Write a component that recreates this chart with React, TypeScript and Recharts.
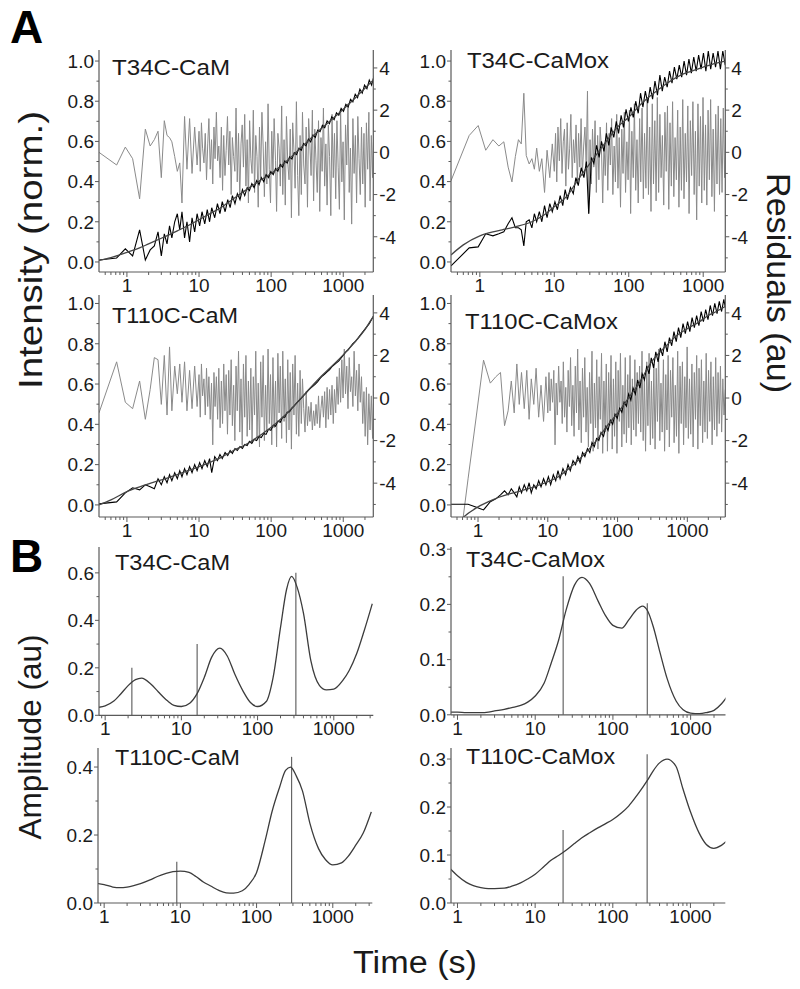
import React from "react";
import { LineChart, Line, XAxis, YAxis, ReferenceLine } from "recharts";

const FONT = '"Liberation Sans", Arial, Helvetica, sans-serif';
const AXIS = "#5a5a5a";
const INK = "#1a1a1a";

// ---------- panel A: kinetics (time in s) ----------
const timeA = [
  0.41, 0.72, 0.95, 1.2, 1.5, 1.8, 2.1, 2.4, 2.7, 3.0,
  3.3, 3.6, 3.9, 4.2, 4.6, 5.0, 5.4, 5.8, 6.3, 6.8,
  7.4, 8.0, 8.7, 9.4, 10.2, 11, 12, 13, 14, 15,
  16.5, 18, 19.5, 21, 23, 25, 27, 29, 31.5, 34,
  37, 40, 43, 46.5, 50, 54, 58, 63, 68, 73,
  79, 85, 92, 99, 107, 115, 124, 134, 144, 155,
  167, 180, 194, 209, 225, 243, 262, 282, 304, 328,
  353, 381, 410, 442, 477, 514, 554, 597, 643, 693,
  747, 805, 868, 935, 1008, 1086, 1170, 1261, 1359, 1465,
  1579, 1701, 1833, 1976, 2129, 2295, 2473, 2665, 2872, 3095,
  3335, 3500,
];

// residuals are sampled more densely once the run is past 10 s
const timeR = [
  0.41, 0.72, 0.95, 1.2, 1.5, 1.8, 2.1, 2.4, 2.7, 3.0,
  3.3, 3.6, 3.9, 4.2, 4.6, 5.0, 5.4, 5.8, 6.3, 6.8,
  7.4, 8.0, 8.7, 9.4,
  10, 10.4, 10.8, 11.2, 11.7, 12.2, 12.7, 13.2, 13.7, 14.3,
  14.9, 15.5, 16.1, 16.7, 17.4, 18.1, 18.8, 19.6, 20.4, 21.2,
  22, 22.9, 23.8, 24.8, 25.8, 26.8, 27.9, 29, 30.2, 31.4,
  32.6, 33.9, 35.3, 36.7, 38.2, 39.7, 41.3, 43, 44.7, 46.5,
  48.4, 50.3, 52.3, 54.4, 56.6, 58.9, 61.2, 63.7, 66.2, 68.9,
  71.6, 74.5, 77.5, 80.6, 83.8, 87.2, 90.6, 94.3, 98, 102,
  106, 110, 115, 119, 124, 129, 134, 140, 145, 151,
  157, 163, 170, 177, 184, 191, 199, 207, 215, 224,
  233, 242, 252, 262, 272, 283, 295, 306, 319, 331,
  345, 358, 373, 388, 403, 419, 436, 454, 472, 491,
  510, 531, 552, 574, 597, 621, 646, 672, 699, 727,
  756, 786, 817, 850, 884, 919, 956, 994, 1034, 1075,
  1118, 1163, 1210, 1258, 1308, 1361, 1415, 1472, 1531, 1592,
  1656, 1722, 1791, 1862, 1937, 2014, 2095, 2179, 2266, 2356,
  2451, 2549, 2651, 2757, 2867, 2982, 3101, 3225, 3354, 3500,
];

const timeFit = [0.41, 0.6, 1, 1.5, 2, 3, 5, 7, 10, 15, 20, 30, 50, 70, 100, 150, 200, 300, 500, 700, 1000, 1500, 2000, 2600, 3500];

// T34C-CaM
const measTL = [
  0.01, 0.02, 0.065, 0.03, 0.16, 0.01, 0.06, 0.08, 0.15, 0.03,
  0.14, 0.09, 0.18, 0.12, 0.2, 0.24, 0.16, 0.25, 0.12, 0.2,
  0.1, 0.22, 0.15, 0.24, 0.18, 0.25, 0.19, 0.26, 0.2, 0.27,
  0.22, 0.29, 0.24, 0.3, 0.25, 0.31, 0.27, 0.33, 0.29, 0.34,
  0.31, 0.36, 0.33, 0.37, 0.355, 0.39, 0.37, 0.405, 0.385, 0.42,
  0.4, 0.435, 0.42, 0.45, 0.435, 0.465, 0.452, 0.485, 0.472, 0.503,
  0.492, 0.523, 0.512, 0.544, 0.534, 0.566, 0.556, 0.59, 0.578, 0.612,
  0.598, 0.632, 0.62, 0.656, 0.648, 0.68, 0.668, 0.702, 0.688, 0.722,
  0.708, 0.742, 0.73, 0.764, 0.75, 0.785, 0.772, 0.81, 0.797, 0.835,
  0.818, 0.86, 0.84, 0.88, 0.862, 0.905, 0.88, 0.925, 0.9, 0.94,
  0.92, 0.96,
];
const residTL = [
  0.0, -0.6, 0.25, -0.3, -2.2, 1.1, 0.3, 0.6, 1.0, -1.2,
  1.5, 0.8, 0.7, 0.5, -0.2, -0.9, -0.5, -2.4, 1.7, -0.8,
  1.6, -1.0, 1.2, -0.6,
  1.0, -0.9, 1.4, 0.2, -0.5, 0.9, -1.3, 0.4, 1.6, -0.8,
  0.6, -1.5, 1.2, -0.3, 1.9, -0.4, 0.3, -1.2, 1.2, -1.8,
  0.8, -1.1, 0.1, 1.7, -0.6, 1.0, -2.0, 0.7, -0.2, -0.9,
  2.1, -1.4, 0.9, -2.2, 0.4, 1.3, -0.7, 1.8, -1.6, 0.6,
  -2.4, 1.5, -0.3, -1.0, 2.0, -1.9, 0.8, -0.2, -2.6, 1.2,
  -1.2, 1.9, 0.3, -2.1, 0.5, -1.5, 2.3, -0.8, -2.4, 1.0,
  -1.0, 1.6, -0.4, -2.8, 0.9, 0.2, -1.6, 2.2, -2.0, 0.6,
  -2.5, 1.7, -0.5, -1.3, 1.1, -3.1, 1.4, 0.1, -1.7, 2.4,
  -1.1, -3.0, 0.8, -2.0, 1.9, -0.6, -1.5, 1.2, -2.6, 1.6,
  0.3, -1.1, 2.0, -2.3, 1.1, -0.4, -1.9, 1.5, -2.8, 0.7,
  -0.9, 2.1, -1.6, 0.4, -2.5, 1.3, -0.2, -3.0, 1.8, -1.2,
  0.9, -2.2, 1.5, -0.7, -2.7, 2.0, -1.4, 0.5, -3.2, 1.3,
  -0.6, 2.3, -1.9, 0.2, -3.4, 1.6, -1.0, 0.8, -2.4, 1.7,
  -0.3, -2.0, 1.2, -1.5, 0.9, -2.6, 1.4, -0.8, 1.9, -2.3,
  0.8, -1.2, 1.1, -0.6, 0.5, -1.0, 0.9, -0.4, 0.6, 0.3,
];
const fitTL = [0.008, 0.022, 0.048, 0.07, 0.09, 0.118, 0.155, 0.18, 0.21, 0.245, 0.27, 0.315, 0.37, 0.405, 0.44, 0.49, 0.53, 0.59, 0.665, 0.71, 0.76, 0.82, 0.865, 0.905, 0.95];

// T34C-CaMox
const measTR = [
  -0.02, 0.07, 0.075, 0.14, 0.13, 0.14, 0.15, 0.19, 0.22, 0.17,
  0.17, 0.16, 0.08, 0.2, 0.21, 0.17, 0.24, 0.2, 0.25, 0.2,
  0.28, 0.22, 0.29, 0.25, 0.3, 0.26, 0.33, 0.28, 0.36, 0.31,
  0.37, 0.34, 0.42, 0.38, 0.47, 0.42, 0.5, 0.24, 0.52, 0.49,
  0.58, 0.52, 0.6, 0.55, 0.64, 0.58, 0.67, 0.62, 0.7, 0.64,
  0.73, 0.67, 0.76, 0.7, 0.77, 0.72, 0.8, 0.74, 0.84, 0.77,
  0.85, 0.79, 0.87, 0.81, 0.9, 0.83, 0.93, 0.85, 0.92, 0.87,
  0.95, 0.89, 0.97, 0.91, 0.98, 0.92, 1.0, 0.93, 1.01, 0.94,
  1.02, 0.95, 1.03, 0.96, 1.04, 0.95, 1.05, 0.96, 1.04, 0.97,
  1.05, 0.96, 1.05, 0.98, 1.04, 0.99, 1.02, 1.0, 1.03, 1.0,
  1.02, 1.0,
];
const residTR = [
  -1.35, 0.8, 1.27, 0.1, 0.6, 0.3, 0.5, -0.7, -1.4, -0.2,
  0.6, 0.4, 2.8, -0.15, -0.55, -0.3, -0.8, 0.2, -0.9, -0.3,
  -1.9, 0.1, -1.2, 0.4,
  -0.9, 0.9, -1.4, 1.2, -0.4, 1.6, -1.0, 0.5, 1.1, -1.6,
  1.4, -0.8, 0.2, 1.8, -1.2, 0.6, -0.5, 1.3, -1.5, 0.9,
  -0.7, 1.6, -1.1, 0.3, 1.2, -0.6, 2.9, -2.9, 0.6, -1.5,
  1.1, -0.7, 1.5, -1.9, 0.8, -1.3, 1.2, 0.2, -2.4, 0.4,
  -1.1, 1.4, -1.8, 0.9, -0.6, 1.6, -2.0, 0.3, -1.4, 1.8,
  -1.7, 0.7, -2.6, 1.1, -1.0, 1.9, -1.9, 0.5, -1.3, 2.0,
  -2.9, 1.0, -1.2, 2.3, -1.8, 0.6, -2.4, 1.6, -1.4, 2.1,
  -2.2, 0.9, -1.7, 2.6, -2.0, 1.2, -2.8, 2.3, -1.5, 1.5,
  -2.3, 2.6, -1.9, 1.8, -1.2, 0.8, -2.5, 1.9, -0.9, 2.2,
  -2.7, 1.4, -1.6, 2.4, -2.1, 0.7, -1.3, 2.0, -2.6, 1.2,
  -1.8, 2.5, -2.2, 0.9, -1.4, 2.2, -2.9, 1.5, -1.1, 2.4,
  -2.0, 1.0, -3.2, 2.3, -1.6, 1.7, -2.4, 2.6, -1.8, 1.3,
  -2.5, 2.0, -1.3, 2.5, -2.1, 1.1, -2.8, 1.8, -1.5, 2.2,
  -2.0, 1.6, -1.9, 2.1, -1.2, 0.8, -0.5, 0.3, 0, 0,
  0, 0, 0, 0, 0, 0, 0, 0, 0, 0,
];
const fitTR = [0.035, 0.085, 0.13, 0.15, 0.16, 0.175, 0.2, 0.23, 0.275, 0.33, 0.4, 0.49, 0.6, 0.67, 0.72, 0.79, 0.83, 0.88, 0.93, 0.95, 0.97, 0.99, 1.0, 1.01, 1.02];

// T110C-CaM
const measBL = [
  0.005, 0.015, 0.06, 0.085, 0.075, 0.1, 0.09, 0.08, 0.13, 0.1,
  0.14, 0.11, 0.15, 0.12, 0.16, 0.13, 0.17, 0.14, 0.18, 0.15,
  0.19, 0.16, 0.2, 0.17, 0.21, 0.18, 0.22, 0.19, 0.23, 0.16,
  0.24, 0.22, 0.25, 0.23, 0.26, 0.245, 0.27, 0.255, 0.28, 0.27,
  0.29, 0.28, 0.3, 0.295, 0.315, 0.305, 0.325, 0.32, 0.34, 0.335,
  0.355, 0.35, 0.375, 0.37, 0.395, 0.39, 0.415, 0.41, 0.435, 0.435,
  0.46, 0.462, 0.48, 0.492, 0.505, 0.518, 0.53, 0.543, 0.555, 0.568,
  0.58, 0.59, 0.6, 0.612, 0.628, 0.64, 0.65, 0.66, 0.67, 0.685,
  0.695, 0.705, 0.715, 0.73, 0.745, 0.76, 0.77, 0.785, 0.8, 0.81,
  0.825, 0.84, 0.855, 0.87, 0.885, 0.9, 0.92, 0.94, 0.955, 0.97,
  0.985, 1.0,
];
const residBL = [
  -0.7, 1.7, -0.2, -0.5, 0.8, -1.0, 0.4, 1.9, 1.8, -0.3,
  2.0, -0.8, 2.4, -0.6, 1.5, 0.2, 1.6, -0.2, 1.7, -0.6,
  1.3, -0.5, 1.5, -0.4,
  1.1, -0.9, 1.6, 0.1, 0.9, -0.8, 1.4, -0.4, 1.0, -1.0,
  0.7, -2.2, 1.2, -0.4, 1.0, -1.0, 1.4, -1.4, 0.8, -1.2,
  1.6, -0.6, 1.1, -1.7, 1.3, -0.8, 1.8, -1.3, 0.6, -2.0,
  1.5, -0.6, 2.2, -1.6, 0.9, -2.2, 1.6, -0.9, 2.0, -1.8,
  0.8, -1.5, 1.4, -2.1, 1.0, -0.8, 2.2, -1.9, 0.7, -2.3,
  1.7, -0.9, 2.0, -2.0, 0.6, -1.6, 2.3, -1.2, 1.1, -2.2,
  1.9, -1.4, 0.8, -2.3, 2.1, -0.7, 1.5, -1.9, 2.2, -1.1,
  0.9, -2.1, 1.8, -1.5, 1.2, -2.4, 1.6, -0.8, 2.0, -1.7,
  0.7, -1.8, 1.3, -1.2, 0.9, -0.5, -1.6, 0.3, -1.3, -0.4,
  -1.1, -0.2, -1.5, -0.6, -1.3, -0.3, -1.2, 0.1, -1.4, -0.5,
  0.1, -0.9, 0.3, -1.4, 0.5, -1.0, 0.4, -0.8, 0.6, -1.2,
  0.4, -0.7, 1.0, -0.3, 1.4, -0.2, 1.8, 0.0, 2.3, 0.2,
  1.5, -0.5, 1.9, 0.3, 1.0, -0.4, 2.2, 0.1, 1.3, -0.6,
  1.6, -0.2, 1.0, -1.2, 0.3, -1.8, 0.5, -2.2, 0.2, -1.5,
  0.1, -1.9, 0.3, -1.0, 0, -1.2, 0, -0.6, 0, 0,
];
const fitBL = [0.0, 0.025, 0.066, 0.09, 0.105, 0.124, 0.15, 0.17, 0.19, 0.215, 0.235, 0.27, 0.31, 0.345, 0.385, 0.44, 0.485, 0.555, 0.64, 0.69, 0.745, 0.815, 0.87, 0.935, 1.0];

// T110C-CaMox
const measBR = [
  0.003, 0.003, -0.012, -0.025, 0.016, 0.03, 0.05, 0.07, 0.05, 0.08,
  0.06, 0.04, 0.09, 0.06, 0.1, 0.07, 0.11, 0.06, 0.1, 0.08,
  0.12, 0.09, 0.13, 0.1, 0.14, 0.1, 0.15, 0.12, 0.17, 0.13,
  0.18, 0.15, 0.2, 0.17, 0.22, 0.2, 0.24, 0.21, 0.26, 0.24,
  0.28, 0.26, 0.31, 0.29, 0.33, 0.32, 0.36, 0.34, 0.39, 0.37,
  0.42, 0.4, 0.45, 0.43, 0.48, 0.46, 0.51, 0.49, 0.55, 0.52,
  0.58, 0.55, 0.62, 0.58, 0.65, 0.62, 0.69, 0.65, 0.73, 0.68,
  0.76, 0.71, 0.78, 0.74, 0.81, 0.76, 0.83, 0.79, 0.86, 0.81,
  0.88, 0.83, 0.9, 0.85, 0.91, 0.86, 0.93, 0.88, 0.94, 0.89,
  0.96, 0.91, 0.97, 0.92, 0.99, 0.94, 1.0, 0.95, 1.01, 0.96,
  1.02, 0.98,
];
const residBR = [
  -10.1, -3.8, -0.8, 1.78, 0.7, 1.0, 1.2, -1.3, -0.6, 0.8,
  -0.7, 1.6, -0.3, 1.2, -0.5, 1.3, -1.0, 0.9, -0.3, 1.4,
  -0.9, 0.6, -1.1, 1.0,
  -0.7, 1.2, -0.6, 0.9, -0.2, 1.3, -2.2, 0.7, -0.8, 1.5,
  -0.2, 0.8, -1.2, 1.7, -0.9, 0.5, -1.6, 1.3, -0.4, 1.9,
  -1.3, 0.6, -1.8, 1.5, -0.7, 2.3, -1.5, 0.8, -2.1, 1.4,
  -0.9, 1.9, -1.6, 0.5, -2.3, 1.2, -1.2, 2.2, -2.5, 0.7,
  -1.4, 1.8, -2.4, 1.0, -1.0, 2.1, -2.6, 0.8, -1.6, 1.6,
  -2.5, 1.2, -1.3, 2.0, -2.4, 0.9, -1.8, 1.7, -2.6, 1.3,
  -1.1, 2.1, -2.3, 0.6, -1.7, 1.9, -2.1, 1.1, -1.4, 2.0,
  -2.2, 0.9, -1.5, 1.8, -1.8, 1.2, -1.2, 1.5, -1.6, 2.2,
  -2.0, 1.0, -2.5, 1.7, -1.3, 2.1, -2.2, 0.8, -1.9, 1.6,
  -2.4, 1.4, -1.1, 2.3, -2.0, 0.7, -1.6, 1.8, -2.5, 1.1,
  -1.5, 2.0, -2.3, 1.3, -0.9, 1.9, -2.1, 0.6, -1.8, 2.2,
  -2.6, 1.5, -1.2, 1.7, -2.2, 1.0, -1.4, 2.4, -1.9, 0.9,
  -1.7, 1.6, -2.3, 1.2, -1.0, 2.0, -2.4, 1.4, -1.3, 1.8,
  -2.1, 0.8, -1.6, 2.1, -1.9, 1.3, -1.1, 1.7, -2.2, 1.0,
  -1.5, 1.9, -1.8, 1.2, -1.2, 1.5, -1.6, 0.9, -0.8, 0.4,
];
const fitBR = [-0.13, -0.065, -0.01, 0.02, 0.038, 0.057, 0.078, 0.095, 0.115, 0.145, 0.18, 0.235, 0.32, 0.39, 0.455, 0.54, 0.6, 0.705, 0.79, 0.84, 0.875, 0.91, 0.94, 0.96, 0.985];

// ---------- panel B: amplitude spectra ----------
const timeB = [
  0.8, 1, 1.3, 1.6, 2, 2.5, 3, 4, 5, 6.5,
  8, 10, 13, 16, 20, 25, 32, 40, 50, 65,
  80, 100, 130, 160, 200, 240, 280, 330, 400, 500,
  650, 800, 1000, 1300, 1600, 2000, 2500, 3200,
];
const ampTL = [
  0.033, 0.04, 0.06, 0.09, 0.125, 0.15, 0.157, 0.131, 0.098, 0.062,
  0.042, 0.037, 0.052, 0.09, 0.16, 0.245, 0.283, 0.25, 0.175, 0.1,
  0.055, 0.037, 0.058, 0.16, 0.37, 0.53, 0.585, 0.54, 0.43, 0.23,
  0.125, 0.107, 0.11, 0.145, 0.19, 0.26, 0.355, 0.47,
];
const ampTR = [
  0.005, 0.005, 0.004, 0.004, 0.004, 0.005, 0.007, 0.01, 0.013, 0.017,
  0.023, 0.034, 0.057, 0.093, 0.135, 0.19, 0.235, 0.249, 0.238, 0.205,
  0.18, 0.162, 0.157, 0.172, 0.19, 0.197, 0.188, 0.16, 0.115, 0.065,
  0.025, 0.009, 0.003, 0.002, 0.004, 0.008, 0.02, 0.04,
];
const ampBL = [
  0.058, 0.054, 0.047, 0.045, 0.047, 0.052, 0.057, 0.068, 0.078, 0.087,
  0.092, 0.094, 0.09, 0.078, 0.062, 0.05, 0.037, 0.03, 0.029, 0.036,
  0.055, 0.09, 0.185, 0.27, 0.34, 0.39, 0.4, 0.375, 0.33, 0.235,
  0.16, 0.128, 0.112, 0.118, 0.138, 0.17, 0.205, 0.268,
];
const ampBR = [
  0.072, 0.057, 0.043, 0.036, 0.032, 0.03, 0.03, 0.031, 0.035, 0.042,
  0.05, 0.06, 0.076, 0.089, 0.099, 0.11, 0.124, 0.136, 0.146, 0.157,
  0.165, 0.174, 0.188, 0.202, 0.222, 0.24, 0.256, 0.275, 0.292, 0.3,
  0.285, 0.238, 0.19, 0.145, 0.122, 0.114, 0.12, 0.135,
];
// time constants (s) and their amplitudes, drawn as sticks
const tauTL = [2.24, 16.1, 318];
const hTL = [0.2, 0.3, 0.6];
const tauTR = [22.9, 277];
const hTR = [0.251, 0.202];
const tauBL = [8.97, 288];
const hBL = [0.121, 0.43];
const tauBR = [22.9, 277];
const hBR = [0.152, 0.31];

// ---------- ticks and labels ----------
const timeMajor = [1, 10, 100, 1000];
const timeMinor = [0.5, 0.6, 0.7, 0.8, 0.9, 2, 3, 4, 5, 6, 7, 8, 9, 20, 30, 40, 50, 60, 70, 80, 90, 200, 300, 400, 500, 600, 700, 800, 900, 2000, 3000];
const intMajor = [0, 0.2, 0.4, 0.6, 0.8, 1.0];
const intMinor = [0.1, 0.3, 0.5, 0.7, 0.9];
const resMajor = [-4, -2, 0, 2, 4];
const resMinor = [-5, -3, -1, 1, 3];
const ampMajorA = [0, 0.2, 0.4, 0.6];
const ampMinorA = [0.1, 0.3, 0.5];
const ampMajorB = [0, 0.1, 0.2, 0.3];
const ampMinorB = [0.05, 0.15, 0.25];
const titles = ["T34C-CaM", "T34C-CaMox", "T110C-CaM", "T110C-CaMox"];

const YW = 70;
const RW = 45;
const XH = 34;
const PT = 14; // room above the plot for the top tick label

const toPoints = (ts: number[], vs: number[]) =>
  ts.map((t, i) => ({ t, v: vs[i] })).filter((p) => typeof p.v === "number");
const near = (list: number[], v: number) => list.some((m) => Math.abs(m - v) < 1e-6);
const within = (list: number[], d: number[]) =>
  list.filter((v) => v >= d[0] - 1e-9 && v <= d[1] + 1e-9).sort((a, b) => a - b);

function tickFor(side: "left" | "right" | "bottom", major: number[], fmt: (v: number) => string) {
  return (p: any) => {
    const v = p.payload.value;
    const big = near(major, v);
    const { x, y } = p;
    if (side === "bottom") {
      const len = big ? 5 : 3;
      return (
        <g>
          <line x1={x} y1={y} x2={x} y2={y + len} stroke={AXIS} strokeWidth={1} />
          {big && (
            <text x={x} y={y + 20} textAnchor="middle" fontSize={19} fontFamily={FONT} fill={INK}>
              {fmt(v)}
            </text>
          )}
        </g>
      );
    }
    const dir = side === "left" ? -1 : 1;
    const len = big ? 4 : 2.5;
    return (
      <g>
        <line x1={x} y1={y} x2={x + dir * len} y2={y} stroke={AXIS} strokeWidth={1} />
        {big && (
          <text
            x={side === "left" ? x - 5 : x + 6}
            y={y}
            dy="0.36em"
            textAnchor={side === "left" ? "end" : "start"}
            fontSize={19}
            fontFamily={FONT}
            fill={INK}
          >
            {fmt(v)}
          </text>
        )}
      </g>
    );
  };
}

const fmtTime = (v: number) => String(v);
const fmt1 = (v: number) => v.toFixed(1);
const fmtInt = (v: number) => String(v);
const axisLine = { stroke: AXIS, strokeWidth: 1.2 };

type KineticProps = {
  box: number[];
  xDomain: number[];
  yDomain: number[];
  rDomain: number[];
  meas: number[];
  resid: number[];
  fit: number[];
};

function KineticPanel({ box, xDomain, yDomain, rDomain, meas, resid, fit }: KineticProps) {
  const [l, t, r, b] = box;
  const W = YW + (r - l) + RW;
  const H = PT + (b - t) + XH;
  return (
    <div style={{ position: "absolute", left: l - YW, top: t - PT }}>
      <LineChart width={W} height={H} margin={{ top: PT, right: 0, bottom: 0, left: 0 }}>
        <XAxis
          dataKey="t"
          type="number"
          scale="log"
          domain={xDomain}
          allowDataOverflow
          ticks={within([...timeMajor, ...timeMinor], xDomain)}
          interval={0}
          tick={tickFor("bottom", timeMajor, fmtTime)}
          tickLine={false}
          tickSize={0}
          tickMargin={0}
          height={XH}
          axisLine={axisLine}
        />
        <YAxis
          yAxisId="l"
          type="number"
          domain={yDomain}
          allowDataOverflow
          ticks={within([...intMajor, ...intMinor], yDomain)}
          interval={0}
          tick={tickFor("left", intMajor, fmt1)}
          tickLine={false}
          tickSize={0}
          tickMargin={0}
          width={YW}
          axisLine={axisLine}
        />
        <YAxis
          yAxisId="r"
          orientation="right"
          type="number"
          domain={rDomain}
          allowDataOverflow
          ticks={within([...resMajor, ...resMinor], rDomain)}
          interval={0}
          tick={tickFor("right", resMajor, fmtInt)}
          tickLine={false}
          tickSize={0}
          tickMargin={0}
          width={RW}
          axisLine={axisLine}
        />
        <Line
          yAxisId="r"
          data={toPoints(timeR, resid)}
          dataKey="v"
          type="linear"
          stroke="#8a8a8a"
          strokeWidth={1}
          dot={false}
          isAnimationActive={false}
        />
        <Line
          yAxisId="l"
          data={toPoints(timeA, meas)}
          dataKey="v"
          type="linear"
          stroke="#000"
          strokeWidth={1.1}
          dot={false}
          isAnimationActive={false}
        />
        <Line
          yAxisId="l"
          data={toPoints(timeFit, fit)}
          dataKey="v"
          type="monotone"
          stroke="#454545"
          strokeWidth={1.3}
          dot={false}
          isAnimationActive={false}
        />
      </LineChart>
    </div>
  );
}

type SpectrumProps = {
  box: number[];
  xDomain: number[];
  yDomain: number[];
  major: number[];
  minor: number[];
  amp: number[];
  tau: number[];
  h: number[];
};

function SpectrumPanel({ box, xDomain, yDomain, major, minor, amp, tau, h }: SpectrumProps) {
  const [l, t, r, b] = box;
  const W = YW + (r - l) + 15;
  const H = PT + (b - t) + XH;
  return (
    <div style={{ position: "absolute", left: l - YW, top: t - PT }}>
      <LineChart width={W} height={H} margin={{ top: PT, right: 15, bottom: 0, left: 0 }}>
        <XAxis
          dataKey="t"
          type="number"
          scale="log"
          domain={xDomain}
          allowDataOverflow
          ticks={within([...timeMajor, ...timeMinor], xDomain)}
          interval={0}
          tick={tickFor("bottom", timeMajor, fmtTime)}
          tickLine={false}
          tickSize={0}
          tickMargin={0}
          height={XH}
          axisLine={axisLine}
        />
        <YAxis
          type="number"
          domain={yDomain}
          allowDataOverflow
          ticks={within([...major, ...minor], yDomain)}
          interval={0}
          tick={tickFor("left", major, fmt1)}
          tickLine={false}
          tickSize={0}
          tickMargin={0}
          width={YW}
          axisLine={axisLine}
        />
        {tau.map((x, i) => (
          <ReferenceLine
            key={i}
            segment={[
              { x, y: 0 },
              { x, y: h[i] },
            ]}
            stroke="#666"
            strokeWidth={1.2}
            ifOverflow="visible"
          />
        ))}
        <Line
          data={toPoints(timeB, amp)}
          dataKey="v"
          type="monotone"
          stroke="#3c3c3c"
          strokeWidth={1.3}
          dot={false}
          isAnimationActive={false}
        />
      </LineChart>
    </div>
  );
}

function Title({ x, y, w, children }: { x: number; y: number; w: number; children: string }) {
  return (
    <text x={x} y={y} fontSize={22} fontFamily={FONT} fill={INK} textLength={w} lengthAdjust="spacingAndGlyphs">
      {children}
    </text>
  );
}

export default function App() {
  return (
    <div
      style={{
        position: "absolute",
        left: 0,
        top: 0,
        width: 800,
        height: 989,
        background: "#fff",
        overflow: "hidden",
      }}
    >
      <KineticPanel box={[98.7, 50, 373, 272]} xDomain={[0.41, 2610]} yDomain={[-0.05, 1.055]} rDomain={[-5.67, 4.85]} meas={measTL} resid={residTL} fit={fitTL} />
      <KineticPanel box={[450.7, 50, 725, 272]} xDomain={[0.41, 1980]} yDomain={[-0.05, 1.055]} rDomain={[-5.67, 4.85]} meas={measTR} resid={residTR} fit={fitTR} />
      <KineticPanel box={[98.7, 295, 373, 517]} xDomain={[0.41, 2610]} yDomain={[-0.06, 1.042]} rDomain={[-5.59, 4.84]} meas={measBL} resid={residBL} fit={fitBL} />
      <KineticPanel box={[450.7, 295, 725, 517]} xDomain={[0.41, 3500]} yDomain={[-0.06, 1.042]} rDomain={[-5.59, 4.84]} meas={measBR} resid={residBR} fit={fitBR} />

      <SpectrumPanel box={[98.7, 547, 373, 715.3]} xDomain={[0.83, 3300]} yDomain={[0, 0.709]} major={ampMajorA} minor={ampMinorA} amp={ampTL} tau={tauTL} h={hTL} />
      <SpectrumPanel box={[450.5, 547, 725, 714.8]} xDomain={[0.825, 2810]} yDomain={[0, 0.304]} major={ampMajorB} minor={ampMinorB} amp={ampTR} tau={tauTR} h={hTR} />
      <SpectrumPanel box={[97.7, 748, 372, 903]} xDomain={[0.83, 3300]} yDomain={[0, 0.456]} major={ampMajorA} minor={ampMinorA} amp={ampBL} tau={tauBL} h={hBL} />
      <SpectrumPanel box={[450.7, 748, 725, 903]} xDomain={[0.825, 2810]} yDomain={[0, 0.323]} major={ampMajorB} minor={ampMinorB} amp={ampBR} tau={tauBR} h={hBR} />

      <svg width={800} height={989} style={{ position: "absolute", left: 0, top: 0, pointerEvents: "none" }}>
        <text x={10} y={43} fontSize={46} fontWeight="bold" fontFamily={FONT} fill="#000">A</text>
        <text x={10} y={572} fontSize={46} fontWeight="bold" fontFamily={FONT} fill="#000">B</text>

        <Title x={112} y={75} w={118}>{titles[0]}</Title>
        <Title x={467} y={68} w={142}>{titles[1]}</Title>
        <Title x={112} y={323} w={126}>{titles[2]}</Title>
        <Title x={465} y={329} w={153}>{titles[3]}</Title>
        <Title x={115} y={570} w={115}>{titles[0]}</Title>
        <Title x={466} y={567} w={139}>{titles[1]}</Title>
        <Title x={115} y={765} w={125}>{titles[2]}</Title>
        <Title x={466} y={764} w={149}>{titles[3]}</Title>

        <text transform="translate(42,250) rotate(-90)" textAnchor="middle" fontSize={33} fontFamily={FONT} fill={INK} textLength={278} lengthAdjust="spacingAndGlyphs">
          Intensity (norm.)
        </text>
        <text transform="translate(767,283) rotate(90)" textAnchor="middle" fontSize={34} fontFamily={FONT} fill={INK} textLength={220} lengthAdjust="spacingAndGlyphs">
          Residuals (au)
        </text>
        <text transform="translate(41,737) rotate(-90)" textAnchor="middle" fontSize={31} fontFamily={FONT} fill={INK} textLength={205} lengthAdjust="spacingAndGlyphs">
          Amplitude (au)
        </text>
        <text x={415} y={973} textAnchor="middle" fontSize={31} fontFamily={FONT} fill={INK} textLength={124} lengthAdjust="spacingAndGlyphs">
          Time (s)
        </text>
      </svg>
    </div>
  );
}
